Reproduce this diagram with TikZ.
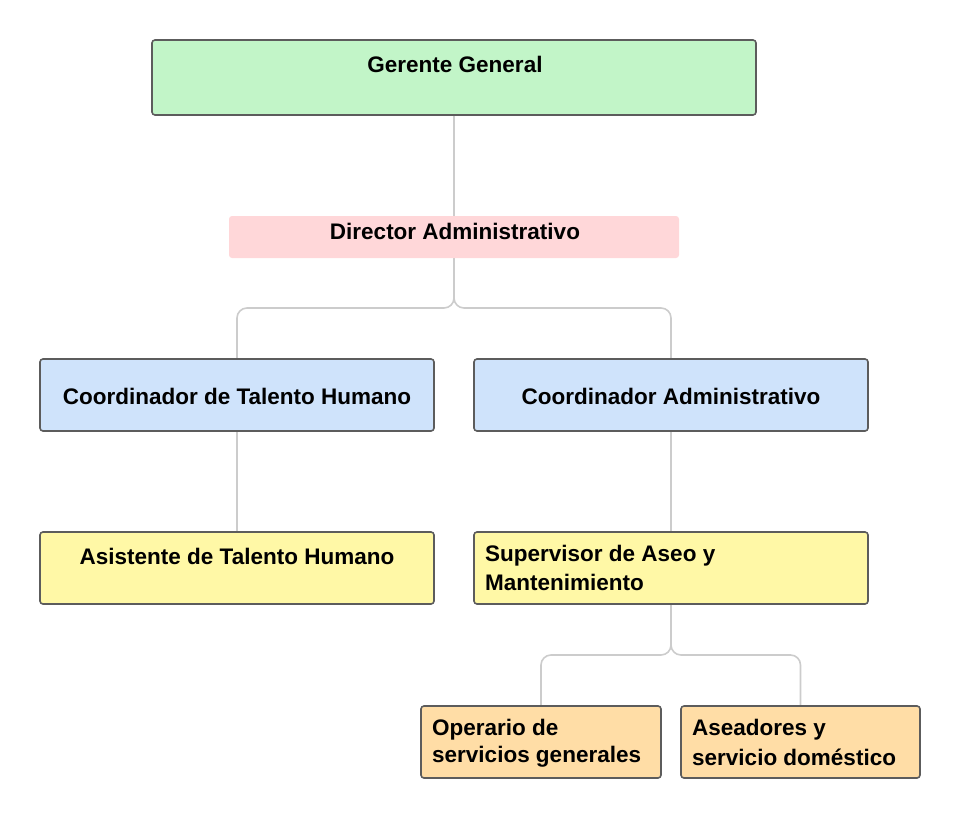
\documentclass[tikz,border=0pt]{standalone}
\usepackage{fontspec}
\usetikzlibrary{backgrounds}
\setmainfont{Liberation Sans}
\definecolor{gg}{HTML}{C2F5C8}
\definecolor{dd}{HTML}{FFD7D9}
\definecolor{bb}{HTML}{CFE3FB}
\definecolor{yy}{HTML}{FFF8A6}
\definecolor{oo}{HTML}{FFDDA6}
\definecolor{bd}{HTML}{5C5C5C}
\definecolor{ln}{HTML}{CCCCCC}
\begin{document}
\begin{tikzpicture}[x=1pt,y=-1pt,
  box/.style={draw=bd,line width=1.6pt,rounded corners=3pt,inner sep=0pt,outer sep=0pt,anchor=north west},
  lbl/.style={font=\bfseries\fontsize{22.5}{27}\selectfont,inner sep=0pt},
  conn/.style={draw=ln,line width=1.6pt,rounded corners=10pt}]
\useasboundingbox (0,0) rectangle (961,819);
% boxes
\node[box,fill=gg,minimum width=604pt,minimum height=75pt] (gg) at (152,40) {};
\node[box,draw=none,fill=dd,minimum width=450pt,minimum height=42pt] (dir) at (229,216) {};
\node[box,fill=bb,minimum width=394pt,minimum height=72pt] (cth) at (40,359) {};
\node[box,fill=bb,minimum width=394pt,minimum height=72pt] (cad) at (474,359) {};
\node[box,fill=yy,minimum width=394pt,minimum height=72pt] (ath) at (40,532) {};
\node[box,fill=yy,minimum width=394pt,minimum height=72pt] (sup) at (474,532) {};
\node[box,fill=oo,minimum width=240pt,minimum height=72pt] (ope) at (421,706) {};
\node[box,fill=oo,minimum width=239pt,minimum height=72pt] (ase) at (681,706) {};
% labels
\node[lbl] (tgg) at (455,64) {Gerente General};
\node[lbl] (tdir) at (455,231) {Director Administrativo};
\node[lbl] (tcth) at (237,396) {Coordinador de Talento Humano};
\node[lbl] (tcad) at (671,396) {Coordinador Administrativo};
\node[lbl] (tath) at (237,556) {Asistente de Talento Humano};
\node[lbl,anchor=west] (tsup1) at (485,556) {Supervisor de Aseo y};
\node[lbl,anchor=west] (tsup2) at (485,582) {Mantenimiento};
\node[lbl,anchor=west] (tope1) at (432,730) {Operario de};
\node[lbl,anchor=west] (tope2) at (432,757) {servicios generales};
\node[lbl,anchor=west] (tase1) at (692,730) {Aseadores y};
\node[lbl,anchor=west] (tase2) at (692,757) {servicio doméstico};
% connectors
\path (dir.south) ++(0,50) coordinate (j1);
\path (sup.south) ++(0,51) coordinate (j2);
\begin{scope}[on background layer]
\draw[conn] (gg.south) -- (dir.north);
\draw[conn] (dir.south) -- (j1) -| (cth.north);
\draw[conn] (dir.south) -- (j1) -| (cad.north);
\draw[conn] (cth.south) -- (ath.north);
\draw[conn] (cad.south) -- (sup.north);
\draw[conn] (sup.south) -- (j2) -| (ope.north);
\draw[conn] (sup.south) -- (j2) -| (ase.north);
\end{scope}
\end{tikzpicture}
\end{document}
